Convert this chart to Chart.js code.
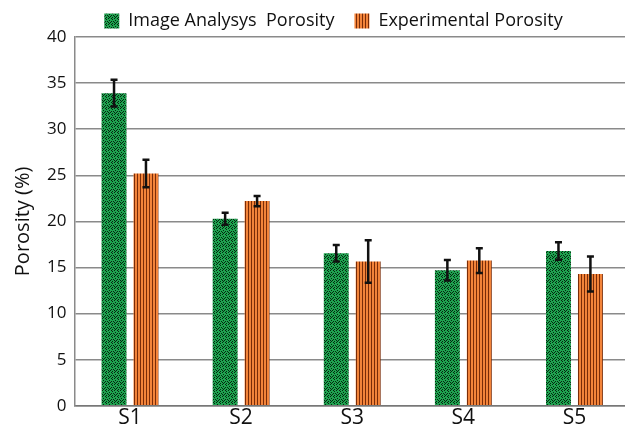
<!DOCTYPE html>
<html>
<head>
<meta charset="utf-8">
<script src="https://cdn.jsdelivr.net/npm/chart.js@4"></script>
<style>
  html, body { margin: 0; padding: 0; background: #fff; overflow: hidden; }
  #wrap { width: 640px; height: 433px; }
</style>
</head>
<body>
<div id="wrap"><canvas id="porosityChart"></canvas></div>
<script>
// Dados
const samples = ["S1", "S2", "S3", "S4", "S5"];
const imageAnalysis = [33.9, 20.3, 16.55, 14.7, 16.8];
const imageAnalysisErr = [1.45, 0.65, 0.9, 1.1, 0.95];
const experimental = [25.2, 22.2, 15.65, 15.75, 14.3];
const experimentalErr = [1.5, 0.55, 2.3, 1.35, 1.9];
const yTicks = [0, 5, 10, 15, 20, 25, 30, 35, 40];

const FONT = "'Open Sans', 'Noto Sans', sans-serif";

// Padrão pontilhado verde (pixels escuros espalhados)
const makeDots = () => {
  const c = document.createElement("canvas");
  c.width = 6; c.height = 6;
  const g = c.getContext("2d");
  g.fillStyle = "#1ea34f";
  g.fillRect(0, 0, 6, 6);
  g.fillStyle = "#062410";
  [[0,0],[3,0],[1,2],[4,1],[2,4],[5,3],[0,4],[3,3],[1,5],[4,5]].forEach(([x, y]) => g.fillRect(x, y, 1, 1));
  return g.createPattern(c, "repeat");
};

// Padrão listrado laranja
const makeStripes = () => {
  const c = document.createElement("canvas");
  c.width = 3; c.height = 3;
  const g = c.getContext("2d");
  g.fillStyle = "#f3843a";
  g.fillRect(0, 0, 3, 3);
  g.fillStyle = "#7a2c08";
  g.fillRect(2, 0, 1, 3);
  return g.createPattern(c, "repeat");
};

// Barras de erro
const errorBars = {
  id: "errorBars",
  afterDatasetsDraw(chart) {
    const { ctx, scales: { y } } = chart;
    const errs = [imageAnalysisErr, experimentalErr];
    ctx.save();
    ctx.strokeStyle = "#111";
    ctx.lineWidth = 2.5;
    chart.data.datasets.forEach((ds, i) => {
      chart.getDatasetMeta(i).data.forEach((bar, j) => {
        const top = y.getPixelForValue(ds.data[j] + errs[i][j]);
        const bot = y.getPixelForValue(ds.data[j] - errs[i][j]);
        ctx.beginPath();
        ctx.moveTo(bar.x, top); ctx.lineTo(bar.x, bot);
        ctx.moveTo(bar.x - 3.5, top); ctx.lineTo(bar.x + 3.5, top);
        ctx.moveTo(bar.x - 3.5, bot); ctx.lineTo(bar.x + 3.5, bot);
        ctx.stroke();
      });
    });
    ctx.restore();
  }
};

// Desloca a legenda, como no original
const legendShift = {
  id: "legendShift",
  afterLayout(chart) {
    chart.legend.left += 15;
    chart.legend.right += 15;
  }
};

new Chart(document.getElementById("porosityChart"), {
  type: "bar",
  data: {
    labels: samples,
    datasets: [
      { label: "Image Analysys  Porosity", data: imageAnalysis, backgroundColor: makeDots() },
      { label: "Experimental Porosity", data: experimental, backgroundColor: makeStripes() }
    ]
  },
  options: {
    responsive: true,
    maintainAspectRatio: false,
    animation: false,
    categoryPercentage: 0.575,
    barPercentage: 0.78,
    layout: { padding: { top: -8, right: 10, left: 7, bottom: 2 } },
    scales: {
      x: {
        grid: { display: false, drawTicks: false },
        border: { color: "#777", width: 1.5 },
        ticks: { color: "#111", font: { family: FONT, size: 21 }, padding: 0 }
      },
      y: {
        min: 0,
        max: 40,
        afterBuildTicks: (s) => { s.ticks = yTicks.map(v => ({ value: v })); },
        grid: { color: "#8a8a8a", lineWidth: 1.5, drawTicks: false },
        border: { color: "#8a8a8a", width: 1.5 },
        ticks: { color: "#111", font: { family: FONT, size: 17 }, padding: 8 },
        title: { display: true, text: "Porosity (%)", color: "#111", font: { family: FONT, size: 20 }, padding: 4 }
      }
    },
    plugins: {
      legend: {
        maxHeight: 45,
        labels: { color: "#111", font: { family: FONT, size: 18 }, boxWidth: 15, boxHeight: 15, padding: 20 }
      },
      tooltip: { enabled: false }
    }
  },
  plugins: [errorBars, legendShift]
});
</script>
</body>
</html>
